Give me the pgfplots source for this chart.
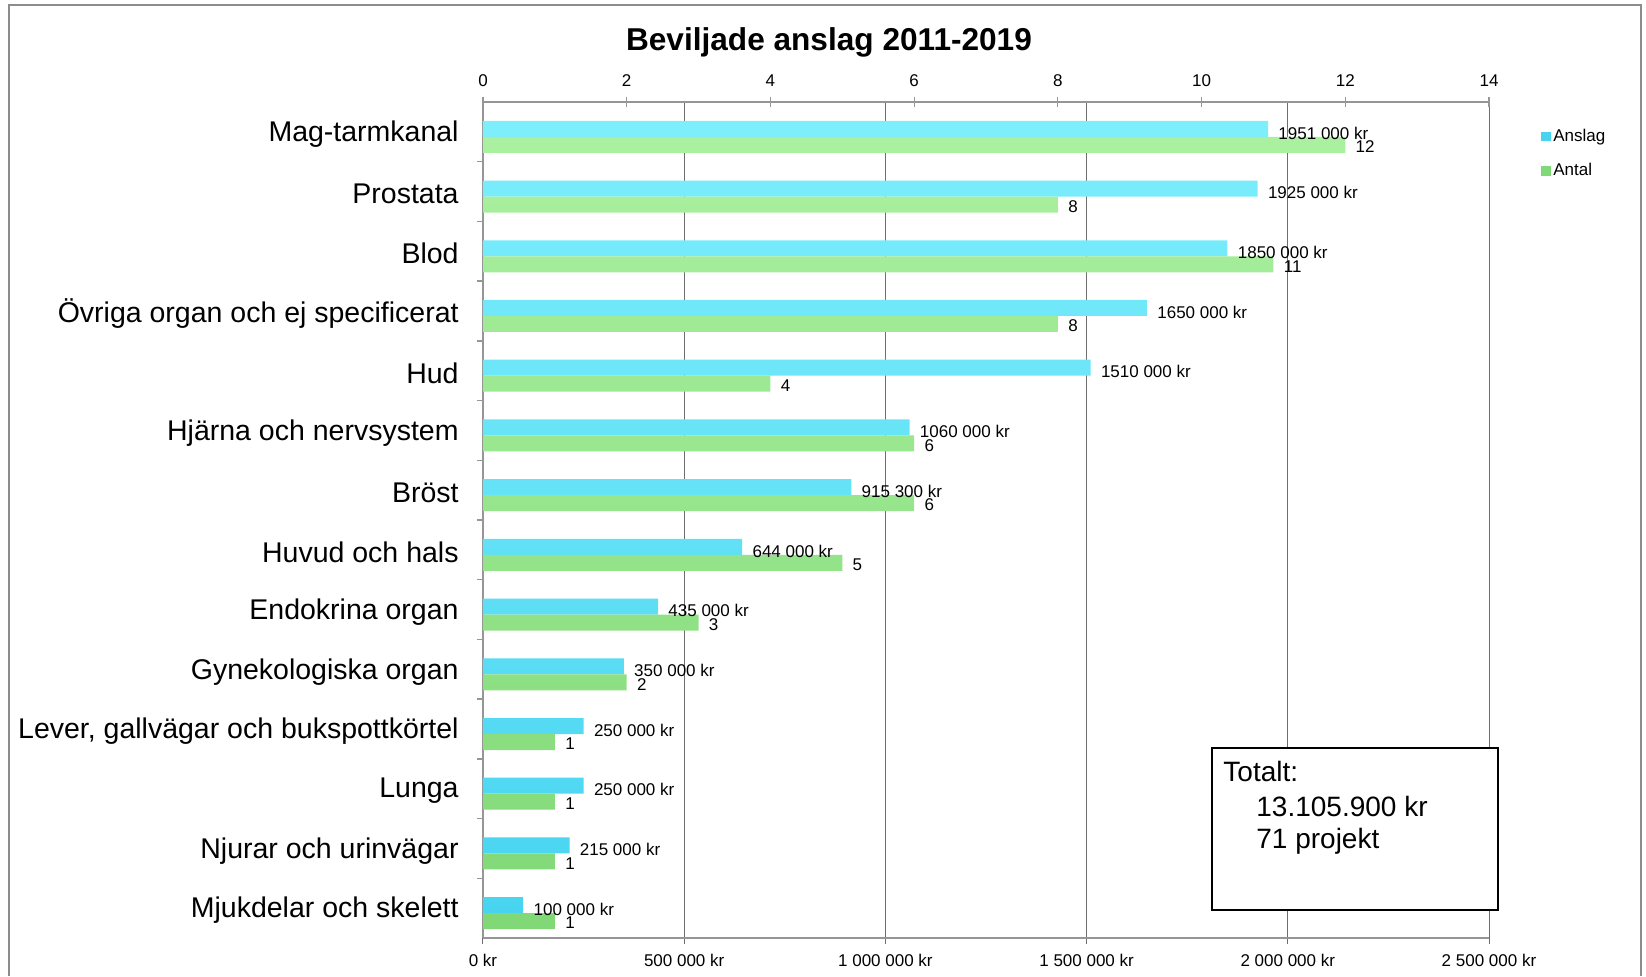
\documentclass[border=0pt]{standalone}
\usepackage{pgfplots}
\pgfplotsset{compat=1.18}
\usepackage{fontspec}
\setmainfont{Liberation Sans}
\definecolor{blueT}{RGB}{125,238,252}
\definecolor{blueB}{RGB}{72,212,240}
\definecolor{greenT}{RGB}{170,240,160}
\definecolor{greenB}{RGB}{128,216,118}
\definecolor{gridc}{RGB}{110,110,110}
\definecolor{axc}{RGB}{150,150,150}
\definecolor{framec}{RGB}{140,140,140}

\begin{document}
\begin{tikzpicture}[x=1pt,y=1pt]
\path[use as bounding box] (0,0) rectangle (823,488);
\draw[framec, line width=0.8pt] (4.5,0) -- (4.5,485.5) -- (820.5,485.5) -- (820.5,0);
\node[font=\fontsize{15.8}{18}\selectfont\bfseries] at (414.5,467) {Beviljade anslag 2011-2019};

% Axis 1: kronor (bottom), blue bars, grid
\begin{axis}[
  at={(241.5pt,19pt)}, anchor=south west,
  width=503pt, height=418pt, scale only axis,
  xmin=0, xmax=2500000, ymin=-0.5, ymax=13.5,
  axis x line*=bottom, axis y line*=left,
  axis line style={axc, line width=0.7pt},
  xtick={0,500000,1000000,1500000,2000000,2500000},
  xticklabels={0 kr, 500 000 kr, 1 000 000 kr, 1 500 000 kr, 2 000 000 kr, 2 500 000 kr},
  scaled x ticks=false,
  xmajorgrids, grid style={gridc, line width=0.5pt},
  tick align=outside, major tick length=3pt,
  major x tick style={gridc, line width=0.5pt},
  xticklabel style={font=\fontsize{8.5}{10}\selectfont, inner sep=0pt, yshift=-5pt},
  ytick={0,...,13},
  yticklabels={Mjukdelar och skelett, Njurar och urinvägar, Lunga, {Lever, gallvägar och bukspottkörtel}, Gynekologiska organ, Endokrina organ, Huvud och hals, Bröst, Hjärna och nervsystem, Hud, Övriga organ och ej specificerat, Blod, Prostata, Mag-tarmkanal},
  yticklabel style={font=\fontsize{14.25}{16}\selectfont, inner sep=0pt, xshift=-9pt, yshift=-1.2pt},
  major y tick style={draw=none},
  minor ytick={0.5,1.5,...,12.5},
  minor y tick style={axc, line width=0.7pt},
  minor tick length=3pt,
  legend style={at={(1.051,0.972)}, anchor=north west, draw=none, fill=none,
    font=\fontsize{8.5}{10}\selectfont, row sep=6.5pt, inner sep=0pt,
    nodes={inner sep=1.5pt}},
  legend cell align=left,
]
\addplot[xbar, bar width=8pt, bar shift=1.5pt, draw=none, top color=blueT, bottom color=blueB, forget plot]
 coordinates {
 (1951000,13) (1925000,12) (1850000,11) (1650000,10) (1510000,9) (1060000,8) (915300,7)
 (644000,6) (435000,5) (350000,4) (250000,3) (250000,2) (215000,1) (100000,0)
 };
\addlegendimage{legend image code/.code={\fill[blueB] (0pt,-2.2pt) rectangle (4.4pt,2.2pt);}}
\addlegendentry{Anslag}
\addlegendimage{legend image code/.code={\fill[greenB] (0pt,-2.2pt) rectangle (4.4pt,2.2pt);}}
\addlegendentry{Antal}
\end{axis}

% Axis 2: antal (top), green bars
\begin{axis}[
  at={(241.5pt,19pt)}, anchor=south west,
  width=503pt, height=418pt, scale only axis,
  xmin=0, xmax=14, ymin=-0.5, ymax=13.5,
  axis x line*=top, axis y line=none,
  axis line style={axc, line width=0.7pt},
  xtick={0,2,...,14},
  tick align=center, major tick length=5pt,
  major x tick style={axc, line width=0.6pt},
  xticklabel style={font=\fontsize{8.5}{10}\selectfont, inner sep=0pt, yshift=5pt},
  ytick=\empty,
  /pgf/number format/assume math mode=true,
]
\addplot[xbar, bar width=8pt, bar shift=-6.5pt, draw=none, top color=greenT, bottom color=greenB,
  nodes near coords, point meta=explicit symbolic,
  every node near coord/.style={anchor=west, black, font=\fontsize{8.5}{10}\selectfont, inner sep=0pt, xshift=5pt, yshift=-7.5pt}]
 coordinates {
 (12,13)[12] (8,12)[8] (11,11)[11] (8,10)[8] (4,9)[4] (6,8)[6] (6,7)[6]
 (5,6)[5] (3,5)[3] (2,4)[2] (1,3)[1] (1,2)[1] (1,1)[1] (1,0)[1]
 };
\end{axis}

% Axis 3: labels of the blue bars, drawn on top
\begin{axis}[
  at={(241.5pt,19pt)}, anchor=south west,
  width=503pt, height=418pt, scale only axis,
  xmin=0, xmax=2500000, ymin=-0.5, ymax=13.5,
  hide axis,
]
\addplot[xbar, bar width=8pt, bar shift=1.5pt, draw=none, fill=none,
  nodes near coords, point meta=explicit symbolic,
  every node near coord/.style={anchor=west, black, font=\fontsize{8.5}{10}\selectfont, inner sep=0pt, xshift=5pt, yshift=-0.6pt}]
 coordinates {
 (1951000,13)[1951 000 kr] (1925000,12)[1925 000 kr] (1850000,11)[1850 000 kr]
 (1650000,10)[1650 000 kr] (1510000,9)[1510 000 kr] (1060000,8)[1060 000 kr]
 (915300,7)[915 300 kr] (644000,6)[644 000 kr] (435000,5)[435 000 kr]
 (350000,4)[350 000 kr] (250000,3)[250 000 kr] (250000,2)[250 000 kr]
 (215000,1)[215 000 kr] (100000,0)[100 000 kr]
 };
\end{axis}

\draw[black, line width=1.2pt, fill=white] (606,33) rectangle (749,114);
\node[anchor=base west, font=\fontsize{14}{16}\selectfont, inner sep=0pt] at (611.5,97) {Totalt:};
\node[anchor=base west, font=\fontsize{14}{16}\selectfont, inner sep=0pt] at (628,79.5) {13.105.900 kr};
\node[anchor=base west, font=\fontsize{14}{16}\selectfont, inner sep=0pt] at (628,63.5) {71 projekt};
\end{tikzpicture}
\end{document}
